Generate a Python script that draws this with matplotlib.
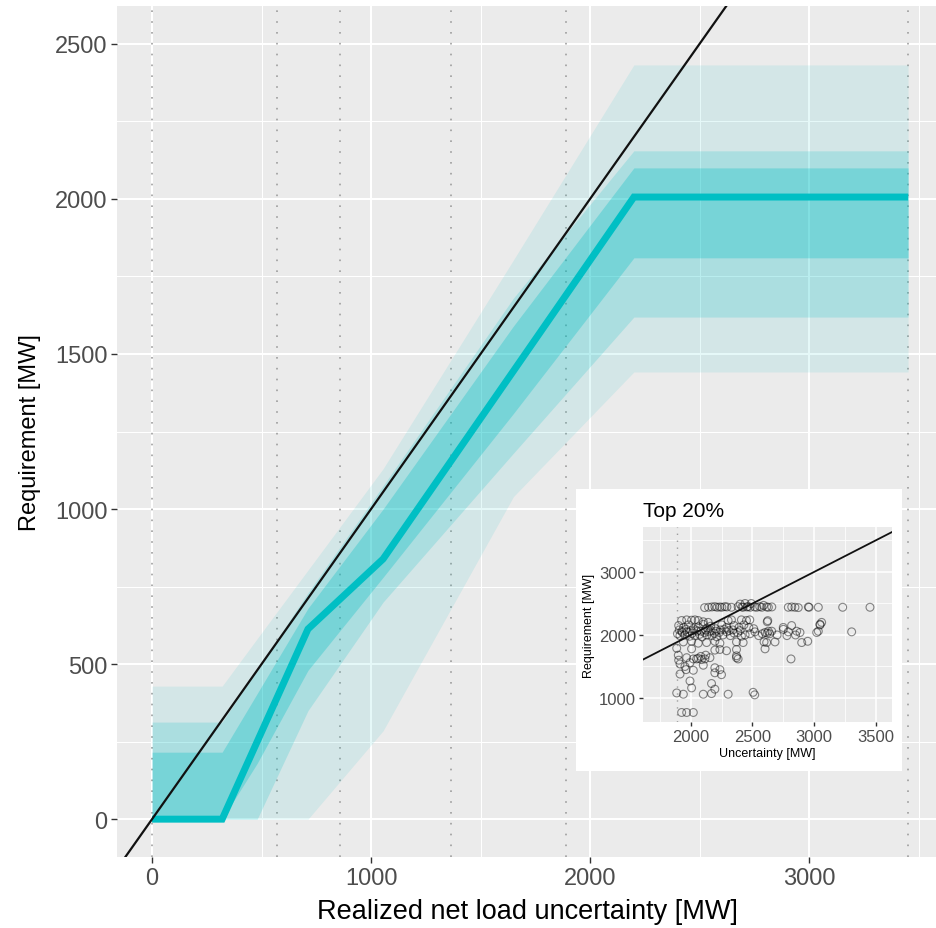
#!/usr/bin/env python3
from __future__ import annotations

import matplotlib

matplotlib.use("Agg")
import matplotlib.pyplot as plt
from matplotlib.ticker import FixedLocator


# main panel: requirement bands vs realized net load uncertainty
band_x = [0, 320, 480, 712, 1055, 1650, 2200, 3452]
median_req = [0, 0, 250, 613, 839, 1445, 2006, 2006]
inner_lo = [0, 0, 180, 480, 780, 1308, 1810, 1810]
inner_hi = [216, 216, 405, 680, 1000, 1590, 2100, 2100]
mid_lo = [0, 0, 0, 350, 700, 1180, 1619, 1619]
mid_hi = [313, 313, 483, 730, 1075, 1680, 2155, 2155]
outer_lo = [0, 0, 0, 0, 285, 1040, 1442, 1442]
outer_hi = [429, 429, 582, 803, 1130, 1803, 2432, 2432]
quantile_marks = [0, 571, 858, 1365, 1890, 3452]
main_xticks = [0, 1000, 2000, 3000]
main_yticks = [0, 500, 1000, 1500, 2000, 2500]

# inset: top 20% of uncertainty
top_threshold = 1890
top_unc = [
    2111, 2143, 2170, 2194, 2213, 2235, 2251, 2275, 2292, 2329, 2383, 2414, 2424, 2454, 2464, 2481,
    2518, 2535, 2559, 2576, 2615, 2629, 2657, 2791, 2819, 2845, 2872, 2954, 2960, 3035, 3233, 3455,
    2400, 2440, 2490, 2590,
    1924, 1965, 2005, 2032, 2059, 2100, 2140, 2302, 2329, 2410, 2451, 2478, 2624, 2620, 3062, 3049,
    1900, 1940, 1980, 2020, 2060, 2100, 2130, 2160, 2200, 2250, 2290, 2350, 2390, 2430, 2470, 2510,
    2818, 3049, 2750,
    1890, 1910, 1930, 1950, 1970, 1990, 2010, 2030, 2050, 2070, 2090, 2110, 2130, 2150, 2170, 2190,
    2210, 2230, 2260, 2290, 2320, 2350, 2380, 2410, 2440, 2480, 2520, 2550, 2580, 2602, 2629, 2656,
    2640, 2620, 2751, 2791, 2859, 2886, 3022, 3035, 3306, 2700, 2780, 2850,
    1905, 1925, 1960, 2000, 2040, 2080, 2120, 2160, 2200, 2240, 2270, 2310, 2340, 2400,
    1938, 2005, 2059, 2127, 2194, 2235, 2370, 2424, 2594, 2615, 2683, 2900, 2949,
    1884, 2005, 2194, 2235, 2289, 2370, 2602,
    1897, 1965, 2019, 2046, 2059, 2086, 2113, 2154, 2370, 2370, 2383, 1900, 2080, 2120, 2813,
    1911, 1951, 1992, 2100, 2194, 2235,
    1911, 2019, 2194, 2248, 1960,
    1992, 2005, 2167, 2194,
    1884, 1938, 2100, 2167, 2302, 2505, 2518,
    1924, 1965, 2019,
]
top_req = [
    2435, 2440, 2445, 2450, 2440, 2445, 2440, 2450, 2445, 2440, 2450, 2445, 2440, 2445, 2450, 2440,
    2445, 2440, 2450, 2440, 2445, 2440, 2445, 2440, 2445, 2440, 2435, 2445, 2440, 2440, 2440, 2440,
    2490, 2500, 2500, 2470,
    2230, 2240, 2235, 2240, 2230, 2210, 2200, 2230, 2240, 2240, 2230, 2240, 2228, 2210, 2200, 2160,
    2150, 2120, 2160, 2100, 2130, 2170, 2110, 2140, 2100, 2160, 2120, 2150, 2120, 2160, 2120, 2100,
    2150, 2170, 2120,
    2020, 1990, 2040, 2000, 2050, 1980, 2030, 1990, 2060, 2010, 1970, 2040, 2000, 2050, 1990, 2030,
    1970, 2040, 2000, 2050, 1990, 2030, 2040, 1980, 2000, 2020, 2050, 1990, 2020, 2040, 2060, 2060,
    2020, 2030, 2090, 2050, 2060, 2040, 2040, 2060, 2050, 2000, 1990, 2000,
    2080, 2060, 2090, 2070, 2080, 2060, 2080, 2070, 2060, 2080, 2090, 2070, 2080, 2070,
    1890, 1900, 1870, 1880, 1900, 1870, 1890, 1880, 1890, 1880, 1890, 1880, 1900,
    1790, 1780, 1760, 1770, 1750, 1770, 1780,
    1680, 1640, 1620, 1620, 1630, 1610, 1620, 1640, 1670, 1640, 1620, 1600, 1660, 1680, 1620,
    1540, 1500, 1560, 1520, 1480, 1450,
    1380, 1440, 1400, 1370, 1450,
    1270, 1160, 1230, 1140,
    1080, 1060, 1060, 1070, 1060, 1090, 1050,
    770, 770, 770,
]
inset_xticks = [2000, 2500, 3000, 3500]
inset_yticks = [1000, 2000, 3000]

TEAL = "#00BFC4"
PANEL_BG = "#EBEBEB"
TICK_GREY = "#4D4D4D"
DOT_GREY = "#9E9E9E"
FIG_W, FIG_H = 937, 929


def px_box(left: float, top: float, right: float, bottom: float) -> list[float]:
    # pixel box (from the top-left corner) -> figure fraction rect
    return [left / FIG_W, 1 - bottom / FIG_H, (right - left) / FIG_W, (bottom - top) / FIG_H]


def style_ggplot(ax, major_lw: float, minor_lw: float, tick_size: float) -> None:
    ax.set_facecolor(PANEL_BG)
    for spine in ax.spines.values():
        spine.set_visible(False)
    ax.set_axisbelow(True)
    ax.grid(which="major", color="white", linewidth=major_lw)
    ax.grid(which="minor", color="white", linewidth=minor_lw)
    ax.tick_params(which="major", length=4, width=1.0, color="#333333", labelcolor=TICK_GREY,
                   labelsize=tick_size, pad=3)
    ax.tick_params(which="minor", length=0)


def draw_main(fig) -> None:
    ax = fig.add_axes(px_box(117, 7, 937, 858))
    style_ggplot(ax, major_lw=1.5, minor_lw=0.75, tick_size=17)

    for x in quantile_marks:
        ax.axvline(x, color=DOT_GREY, linewidth=1.2, linestyle=(0, (1, 5.5)), zorder=1.5)

    ax.fill_between(band_x, outer_lo, outer_hi, color=TEAL, alpha=0.1, linewidth=0, zorder=2)
    ax.fill_between(band_x, mid_lo, mid_hi, color=TEAL, alpha=0.19, linewidth=0, zorder=2.1)
    ax.fill_between(band_x, inner_lo, inner_hi, color=TEAL, alpha=0.3, linewidth=0, zorder=2.2)
    ax.plot(band_x, median_req, color=TEAL, linewidth=5, solid_joinstyle="miter",
            solid_capstyle="butt", zorder=3)
    ax.axline((0, 0), slope=1, color="#111111", linewidth=1.6, zorder=4)

    ax.set_xlim(-160, 3584)
    ax.set_ylim(-122, 2622)
    ax.set_xticks(main_xticks)
    ax.set_yticks(main_yticks)
    ax.xaxis.set_minor_locator(FixedLocator([500, 1500, 2500, 3500]))
    ax.yaxis.set_minor_locator(FixedLocator([250, 750, 1250, 1750, 2250]))
    ax.set_xlabel("Realized net load uncertainty [MW]", fontsize=19.5, labelpad=7)
    ax.set_ylabel("Requirement [MW]", fontsize=17, labelpad=10)


def draw_inset(fig) -> None:
    box = fig.add_axes(px_box(576, 490, 902, 772))
    box.set_facecolor("white")
    box.set_xticks([])
    box.set_yticks([])
    for spine in box.spines.values():
        spine.set_visible(False)

    ax = fig.add_axes(px_box(643, 528, 892, 723))
    style_ggplot(ax, major_lw=1.1, minor_lw=0.55, tick_size=12)
    ax.tick_params(which="major", length=3, pad=2)

    ax.axvline(top_threshold, color=DOT_GREY, linewidth=1.0, linestyle=(0, (1, 4)), zorder=1.5)
    ax.scatter(top_unc, top_req, s=32, facecolors="none", edgecolors=(0, 0, 0, 0.45),
               linewidths=0.8, zorder=3)
    ax.axline((2000, 2000), slope=1, color="#111111", linewidth=1.3, zorder=4)

    ax.set_xlim(1610, 3634)
    ax.set_ylim(619, 3714)
    ax.set_xticks(inset_xticks)
    ax.set_yticks(inset_yticks)
    ax.xaxis.set_minor_locator(FixedLocator([1750, 2250, 2750, 3250]))
    ax.yaxis.set_minor_locator(FixedLocator([1500, 2500, 3500]))
    ax.set_xlabel("Uncertainty [MW]", fontsize=9, labelpad=2)
    ax.set_ylabel("Requirement [MW]", fontsize=9, labelpad=3)
    ax.set_title("Top 20%", loc="left", fontsize=15, pad=8)


def main() -> int:
    plt.rcParams["font.family"] = ["Liberation Sans", "DejaVu Sans"]
    fig = plt.figure(figsize=(FIG_W / 100, FIG_H / 100), dpi=100)
    draw_main(fig)
    draw_inset(fig)
    fig.savefig("out.png", dpi=100, facecolor="white")
    plt.close(fig)
    return 0


if __name__ == "__main__":
    raise SystemExit(main())
